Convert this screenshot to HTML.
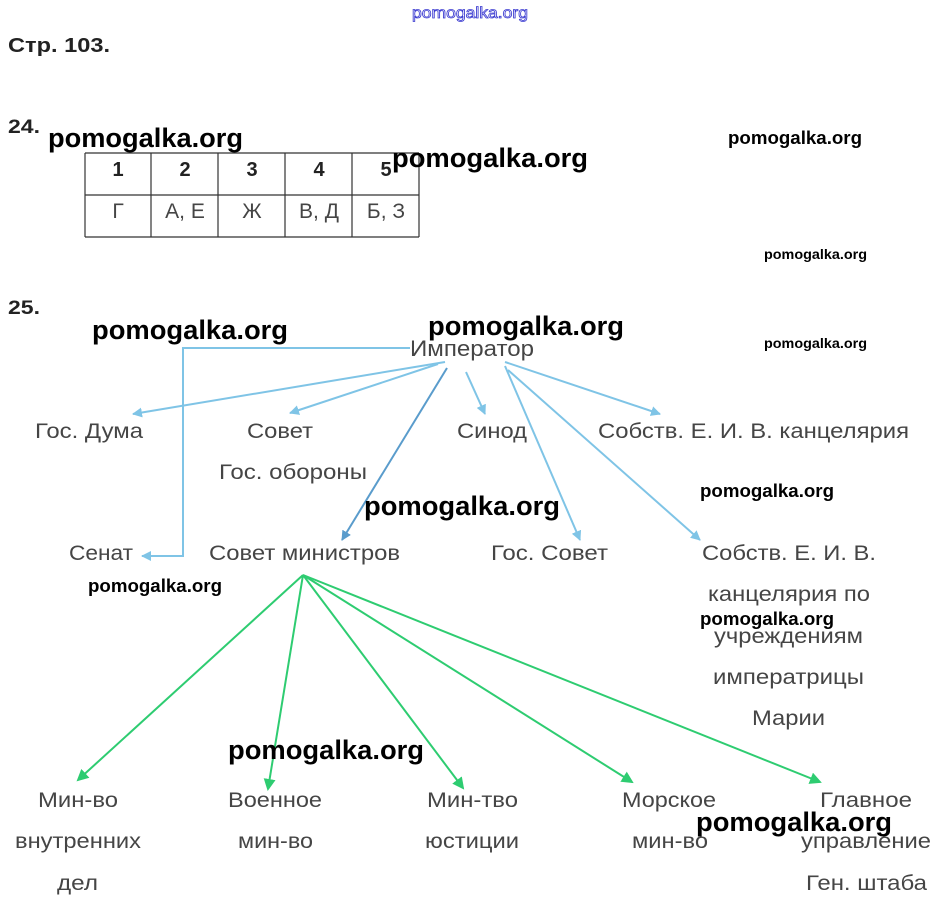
<!DOCTYPE html>
<html><head><meta charset="utf-8"><style>
html,body{margin:0;padding:0;background:#fff;}
svg{display:block;}
.l{font-family:"Liberation Sans",sans-serif;font-size:21px;fill:#454545;}
.w{font-family:"Liberation Sans",sans-serif;font-weight:bold;fill:#000;}
.b{font-family:"Liberation Sans",sans-serif;font-weight:bold;fill:#222;}
</style></head><body>
<svg width="939" height="907" viewBox="0 0 939 907" xmlns="http://www.w3.org/2000/svg">
<defs>
<marker id="ab" markerWidth="10" markerHeight="10" refX="9" refY="5" orient="auto" markerUnits="userSpaceOnUse"><path d="M0,0 L10,5 L0,10 Z" fill="#7fc4e6"/></marker>
<marker id="ad" markerWidth="10" markerHeight="10" refX="9" refY="5" orient="auto" markerUnits="userSpaceOnUse"><path d="M0,0 L10,5 L0,10 Z" fill="#5a9ccc"/></marker>
<marker id="ag" markerWidth="12" markerHeight="12" refX="10" refY="6" orient="auto" markerUnits="userSpaceOnUse"><path d="M0,0 L12,6 L0,12 Z" fill="#2ecc71"/></marker>
</defs>
<text x="412" y="18" font-family="Liberation Sans,sans-serif" font-size="16" fill="#fff" stroke="#3a3ad0" stroke-width="0.8" textLength="116" lengthAdjust="spacingAndGlyphs">pomogalka.org</text>
<text x="8" y="52" class="b" font-size="20" textLength="102" lengthAdjust="spacingAndGlyphs">Стр. 103.</text>
<text x="8" y="133" class="b" font-size="19" textLength="32" lengthAdjust="spacingAndGlyphs">24.</text>
<text x="8" y="314" class="b" font-size="19" textLength="32" lengthAdjust="spacingAndGlyphs">25.</text>
<!-- table -->
<g stroke="#333" stroke-width="1.2">
<line x1="85" y1="153" x2="419" y2="153"/><line x1="85" y1="195" x2="419" y2="195"/><line x1="85" y1="237" x2="419" y2="237"/>
<line x1="85" y1="153" x2="85" y2="237"/><line x1="151" y1="153" x2="151" y2="237"/><line x1="218" y1="153" x2="218" y2="237"/><line x1="285" y1="153" x2="285" y2="237"/><line x1="352" y1="153" x2="352" y2="237"/><line x1="419" y1="153" x2="419" y2="237"/>
</g>
<g class="b" font-size="20" text-anchor="middle">
<text x="118" y="176">1</text><text x="185" y="176">2</text><text x="252" y="176">3</text><text x="319" y="176">4</text><text x="386" y="176">5</text>
</g>
<g class="l" font-size="20" text-anchor="middle">
<text x="118" y="218">Г</text><text x="185" y="218">А, Е</text><text x="252" y="218">Ж</text><text x="319" y="218">В, Д</text><text x="386" y="218">Б, З</text>
</g>
<!-- blue connectors -->
<g stroke="#7fc4e6" stroke-width="2" fill="none">
<polyline points="410,348 183,348 183,556 142,556" marker-end="url(#ab)"/>
<line x1="445" y1="362" x2="133" y2="414" marker-end="url(#ab)"/>
<line x1="438" y1="364" x2="290" y2="413" marker-end="url(#ab)"/>
<line x1="466" y1="372" x2="485" y2="414" marker-end="url(#ab)"/>
<line x1="505" y1="362" x2="660" y2="414" marker-end="url(#ab)"/>
<line x1="505" y1="366" x2="580" y2="540" marker-end="url(#ab)"/>
<line x1="508" y1="370" x2="700" y2="540" marker-end="url(#ab)"/>
</g>
<line x1="447" y1="368" x2="342" y2="540" stroke="#5a9ccc" stroke-width="2" marker-end="url(#ad)"/>
<!-- green connectors -->
<g stroke="#2ecc71" stroke-width="2" fill="none">
<line x1="303" y1="575" x2="78" y2="780" marker-end="url(#ag)"/>
<line x1="303" y1="575" x2="268" y2="789" marker-end="url(#ag)"/>
<line x1="303" y1="575" x2="463" y2="788" marker-end="url(#ag)"/>
<line x1="303" y1="575" x2="632" y2="782" marker-end="url(#ag)"/>
<line x1="303" y1="575" x2="820" y2="782" marker-end="url(#ag)"/>
</g>
<!-- labels -->
<g class="l" lengthAdjust="spacingAndGlyphs">
<text x="410" y="356" font-size="22" textLength="124" lengthAdjust="spacingAndGlyphs">Император</text>
<text x="35" y="438" textLength="108" lengthAdjust="spacingAndGlyphs">Гос. Дума</text>
<text x="247" y="438" textLength="66" lengthAdjust="spacingAndGlyphs">Совет</text>
<text x="457" y="438" textLength="70" lengthAdjust="spacingAndGlyphs">Синод</text>
<text x="598" y="438" textLength="311" lengthAdjust="spacingAndGlyphs">Собств. Е. И. В. канцелярия</text>
<text x="219" y="479" textLength="148" lengthAdjust="spacingAndGlyphs">Гос. обороны</text>
<text x="69" y="560" textLength="64" lengthAdjust="spacingAndGlyphs">Сенат</text>
<text x="209" y="560" textLength="191" lengthAdjust="spacingAndGlyphs">Совет министров</text>
<text x="491" y="560" textLength="117" lengthAdjust="spacingAndGlyphs">Гос. Совет</text>
<text x="702" y="560" textLength="174" lengthAdjust="spacingAndGlyphs">Собств. Е. И. В.</text>
<text x="708" y="601" textLength="162" lengthAdjust="spacingAndGlyphs">канцелярия по</text>
<text x="714" y="643" textLength="149" lengthAdjust="spacingAndGlyphs">учреждениям</text>
<text x="713" y="684" textLength="151" lengthAdjust="spacingAndGlyphs">императрицы</text>
<text x="752" y="725" textLength="73" lengthAdjust="spacingAndGlyphs">Марии</text>
<text x="38" y="807" textLength="80" lengthAdjust="spacingAndGlyphs">Мин-во</text>
<text x="15" y="848" textLength="126" lengthAdjust="spacingAndGlyphs">внутренних</text>
<text x="57" y="890" textLength="41" lengthAdjust="spacingAndGlyphs">дел</text>
<text x="228" y="807" textLength="94" lengthAdjust="spacingAndGlyphs">Военное</text>
<text x="238" y="848" textLength="75" lengthAdjust="spacingAndGlyphs">мин-во</text>
<text x="427" y="807" textLength="91" lengthAdjust="spacingAndGlyphs">Мин-тво</text>
<text x="425" y="848" textLength="94" lengthAdjust="spacingAndGlyphs">юстиции</text>
<text x="622" y="807" textLength="94" lengthAdjust="spacingAndGlyphs">Морское</text>
<text x="632" y="848" textLength="76" lengthAdjust="spacingAndGlyphs">мин-во</text>
<text x="820" y="807" textLength="92" lengthAdjust="spacingAndGlyphs">Главное</text>
<text x="801" y="848" textLength="130" lengthAdjust="spacingAndGlyphs">управление</text>
<text x="806" y="890" textLength="121" lengthAdjust="spacingAndGlyphs">Ген. штаба</text>
</g>
<!-- watermarks -->
<g class="w" font-size="27">
<text x="48" y="147" textLength="195" lengthAdjust="spacingAndGlyphs">pomogalka.org</text>
<text x="392" y="167" textLength="196" lengthAdjust="spacingAndGlyphs">pomogalka.org</text>
<text x="92" y="339" textLength="196" lengthAdjust="spacingAndGlyphs">pomogalka.org</text>
<text x="428" y="335" textLength="196" lengthAdjust="spacingAndGlyphs">pomogalka.org</text>
<text x="364" y="515" textLength="196" lengthAdjust="spacingAndGlyphs">pomogalka.org</text>
<text x="228" y="759" textLength="196" lengthAdjust="spacingAndGlyphs">pomogalka.org</text>
<text x="696" y="831" textLength="196" lengthAdjust="spacingAndGlyphs">pomogalka.org</text>
</g>
<g class="w" font-size="18">
<text x="728" y="144" textLength="134" lengthAdjust="spacingAndGlyphs">pomogalka.org</text>
<text x="700" y="497" textLength="134" lengthAdjust="spacingAndGlyphs">pomogalka.org</text>
<text x="88" y="592" textLength="134" lengthAdjust="spacingAndGlyphs">pomogalka.org</text>
<text x="700" y="625" textLength="134" lengthAdjust="spacingAndGlyphs">pomogalka.org</text>
</g>
<g class="w" font-size="14">
<text x="764" y="259" textLength="103" lengthAdjust="spacingAndGlyphs">pomogalka.org</text>
<text x="764" y="348" textLength="103" lengthAdjust="spacingAndGlyphs">pomogalka.org</text>
</g>
</svg>
</body></html>
